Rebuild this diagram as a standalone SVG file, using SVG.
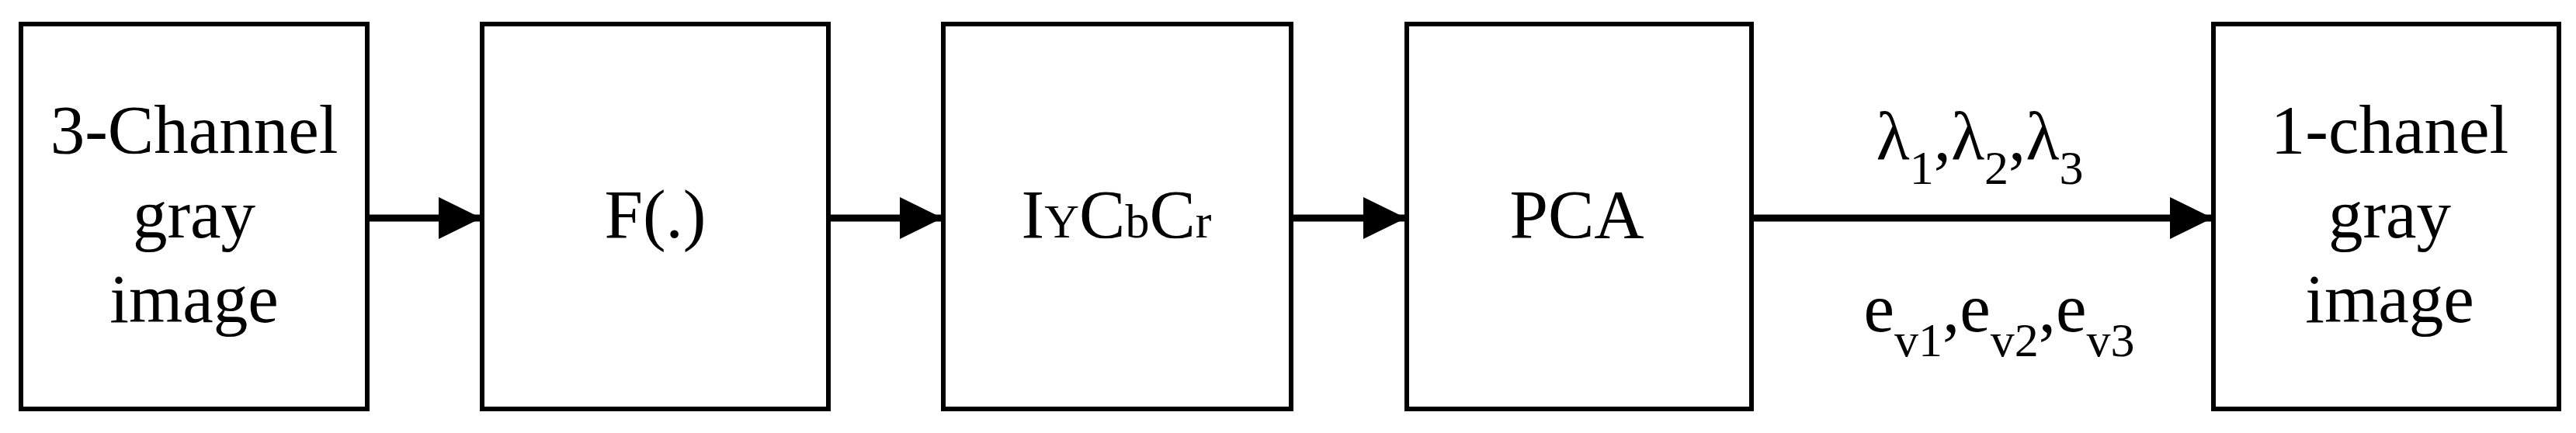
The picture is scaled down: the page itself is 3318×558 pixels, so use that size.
<svg xmlns="http://www.w3.org/2000/svg" width="3318" height="558" viewBox="0 0 3318 558">
<style>
.box{fill:#fff;stroke:#000;stroke-width:6}
.t{font-family:"Liberation Serif","Times New Roman",serif;font-size:89px;fill:#000;text-anchor:middle}
.c{stroke:#000;stroke-width:9;fill:none}
</style>
<defs><marker id="ah" markerUnits="userSpaceOnUse" markerWidth="56" markerHeight="56" refX="54" refY="27" orient="auto"><path d="M0,0 L55,27 L0,54 Z" fill="#000"/></marker></defs>
<g id="n1"><rect class="box" x="27" y="31" width="446" height="496"/><text class="t" x="250" y="197">3-Channel</text><text class="t" x="250" y="306">gray</text><text class="t" x="250" y="415">image</text></g>
<g id="n2"><rect class="box" x="621" y="31" width="446" height="496"/><text class="t" x="844" y="306">F(.)</text></g>
<g id="n3"><rect class="box" x="1215" y="31" width="448" height="496"/><text class="t" x="1438" y="306">I<tspan font-size="62">Y</tspan>C<tspan font-size="62">b</tspan>C<tspan font-size="62">r</tspan></text></g>
<g id="n4"><rect class="box" x="1812" y="31" width="444" height="496"/><text class="t" x="2031" y="306">PCA</text></g>
<g id="n5"><rect class="box" x="2851" y="31" width="445" height="496"/><text class="t" x="3078" y="197">1-chanel</text><text class="t" x="3078" y="306">gray</text><text class="t" x="3078" y="415">image</text></g>
<g id="connectors">
<line class="c" x1="473" y1="281" x2="619" y2="281" marker-end="url(#ah)"/>
<line class="c" x1="1067" y1="281" x2="1213" y2="281" marker-end="url(#ah)"/>
<line class="c" x1="1663" y1="281" x2="1810" y2="281" marker-end="url(#ah)"/>
<line class="c" x1="2256" y1="281" x2="2849" y2="281" marker-end="url(#ah)"/>
<text class="t" x="2550" y="206">λ<tspan font-size="62" dy="31">1</tspan><tspan dy="-31">,λ</tspan><tspan font-size="62" dy="31">2</tspan><tspan dy="-31">,λ</tspan><tspan font-size="62" dy="31">3</tspan></text>
<text class="t" x="2575" y="427">e<tspan font-size="62" dy="32">v1</tspan><tspan dy="-32">,e</tspan><tspan font-size="62" dy="32">v2</tspan><tspan dy="-32">,e</tspan><tspan font-size="62" dy="32">v3</tspan></text>
</g>
</svg>
